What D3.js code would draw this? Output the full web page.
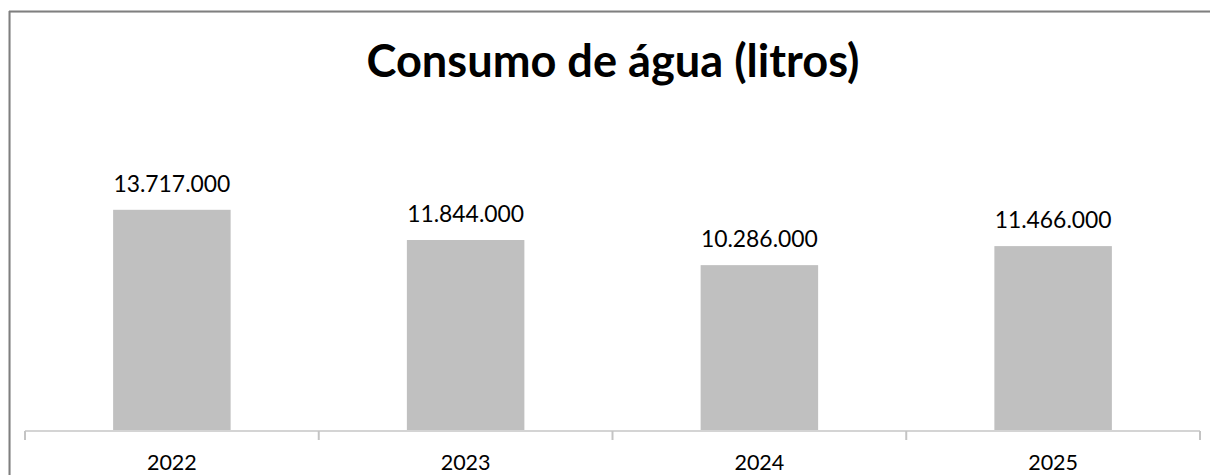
<!DOCTYPE html>
<html>
<head>
<meta charset="utf-8">
<script src="https://cdn.jsdelivr.net/npm/d3@7"></script>
<style>
html,body{margin:0;padding:0;background:#fff;overflow:hidden;}
svg{display:block;}
</style>
</head>
<body>
<svg id="chart" width="1210" height="475"></svg>
<script>
const title = "Consumo de água (litros)";
const categories = ["2022", "2023", "2024", "2025"];
const values = [13717000, 11844000, 10286000, 11466000];
const valueLabels = ["13.717.000", "11.844.000", "10.286.000", "11.466.000"];
const yMax = 16000000;

const svg = d3.select("#chart");
const FONT = "Lato, 'Open Sans', 'Liberation Sans', sans-serif";

// frame
svg.append("rect").attr("x", 10).attr("y", 12).attr("width", 1260).attr("height", 520)
  .attr("fill", "#fff").attr("stroke", "#e3e3e3").attr("stroke-width", 1);
svg.append("line").attr("x1", 9.5).attr("x2", 9.5).attr("y1", 11).attr("y2", 475)
  .attr("stroke", "#7f7f7f").attr("stroke-width", 2);
svg.append("line").attr("x1", 9).attr("x2", 1210).attr("y1", 11.5).attr("y2", 11.5)
  .attr("stroke", "#7f7f7f").attr("stroke-width", 2);

const x = d3.scaleBand().domain(categories).range([25, 1200]).paddingInner(0.6).paddingOuter(0.3);
const xTicks = d3.scaleBand().domain(categories).range([25, 1200]).padding(0);
const y = d3.scaleLinear().domain([0, yMax]).range([431, 173]);

function fitText(sel, targetWidth, baseSize) {
  sel.attr("font-size", baseSize);
  const w = sel.node().getComputedTextLength();
  sel.attr("font-size", baseSize * targetWidth / w);
}

// title
const t = svg.append("text").attr("x", 613).attr("y", 77).attr("text-anchor", "middle")
  .attr("font-family", FONT).attr("font-weight", "bold").attr("fill", "#000").text(title);
fitText(t, 493, 44);

// bars
svg.selectAll("rect.bar").data(values).join("rect").attr("class", "bar")
  .attr("x", (d, i) => x(categories[i]))
  .attr("width", x.bandwidth())
  .attr("y", d => y(d))
  .attr("height", d => y(0) - y(d))
  .attr("fill", "#c0c0c0");

// value labels
svg.selectAll("text.val").data(values).join("text").attr("class", "val")
  .attr("x", (d, i) => x(categories[i]) + x.bandwidth() / 2)
  .attr("y", d => y(d) - 18)
  .attr("text-anchor", "middle").attr("font-family", FONT).attr("fill", "#000")
  .text((d, i) => valueLabels[i])
  .each(function () { fitText(d3.select(this), 117, 22); });

// x axis
const axis = svg.append("g").attr("transform", "translate(0,431)");
axis.append("line").attr("x1", 25).attr("x2", 1200).attr("y1", 0).attr("y2", 0)
  .attr("stroke", "#d4d4d4").attr("stroke-width", 2);
const tickPos = categories.map(c => xTicks(c)).concat([xTicks.range()[1]]);
axis.selectAll("line.tick").data(tickPos).join("line").attr("class", "tick")
  .attr("x1", d => d).attr("x2", d => d).attr("y1", 0).attr("y2", 9)
  .attr("stroke", "#c4c4c4").attr("stroke-width", 2);
axis.selectAll("text.cat").data(categories).join("text").attr("class", "cat")
  .attr("x", d => x(d) + x.bandwidth() / 2)
  .attr("y", 39)
  .attr("text-anchor", "middle").attr("font-family", FONT).attr("fill", "#000")
  .text(d => d)
  .each(function () { fitText(d3.select(this), 50, 24); });
</script>
</body>
</html>
